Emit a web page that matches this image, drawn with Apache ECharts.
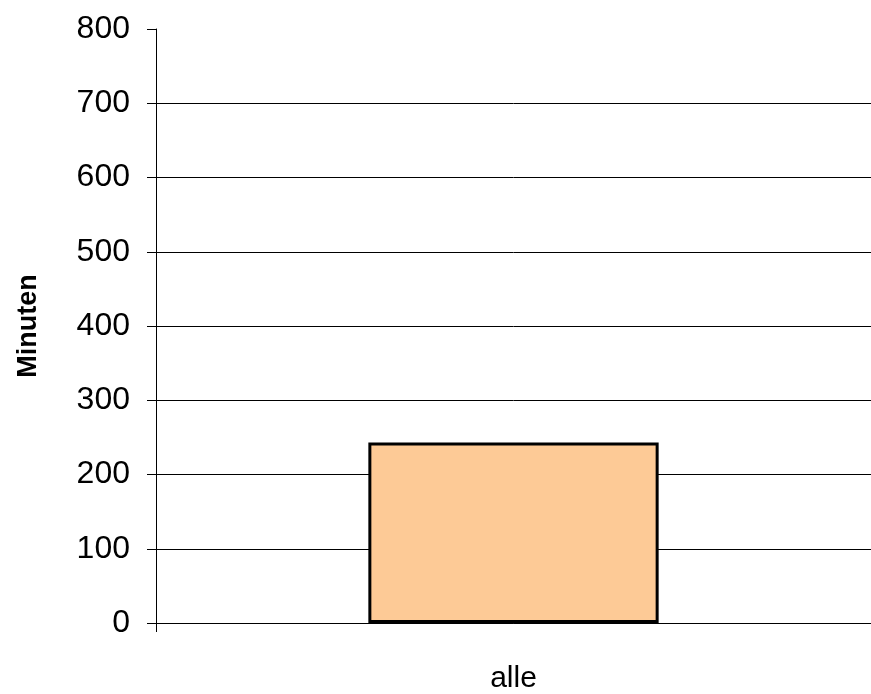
<!DOCTYPE html>
<html>
<head>
<meta charset="utf-8">
<script src="https://cdn.jsdelivr.net/npm/echarts@6/dist/echarts.min.js"></script>
<style>
html, body { margin: 0; padding: 0; background: #fff; }
#chart1 { width: 871px; height: 694px; }
</style>
</head>
<body>
<div id="chart1"></div>
<script>
var categories = ['alle'];
var minuten = [243];
var yTicks = [0, 100, 200, 300, 400, 500, 600, 700, 800];

var chart1 = echarts.init(document.getElementById('chart1'));

// no grid line at the top value, like the original
var gridColors = yTicks.map(function (v, i) {
	return i === yTicks.length - 1 ? 'rgba(0,0,0,0)' : '#000';
});

var option = {
	backgroundColor: '#ffffff',
	animation: false,
	grid: {
		left: 156,
		right: 0,
		top: 29,
		bottom: 69
	},
	xAxis: {
		type: 'category',
		data: categories,
		axisLine: {
			lineStyle: { color: '#000', width: 1 }
		},
		axisTick: {
			show: true,
			length: 9,
			lineStyle: { color: '#000' }
		},
		axisLabel: {
			color: '#000',
			fontFamily: 'Liberation Sans, Arial, sans-serif',
			fontSize: 30,
			margin: 41
		},
		splitLine: { show: false }
	},
	yAxis: {
		type: 'value',
		name: 'Minuten',
		nameLocation: 'middle',
		nameGap: 114,
		nameRotate: 90,
		nameTextStyle: {
			color: '#000',
			fontFamily: 'Liberation Sans, Arial, sans-serif',
			fontSize: 27,
			fontWeight: 'bold'
		},
		min: yTicks[0],
		max: yTicks[yTicks.length - 1],
		interval: 100,
		axisLine: {
			show: true,
			lineStyle: { color: '#000', width: 1 }
		},
		axisTick: {
			show: true,
			length: 9,
			lineStyle: { color: '#000' }
		},
		axisLabel: {
			color: '#000',
			fontFamily: 'Liberation Sans, Arial, sans-serif',
			fontSize: 32,
			margin: 26
		},
		splitLine: {
			show: true,
			lineStyle: { color: gridColors, width: 1 }
		}
	},
	series: [{
		type: 'bar',
		data: minuten,
		barWidth: '40.6%',
		itemStyle: {
			color: '#fdca96',
			borderColor: '#000',
			borderWidth: 3
		}
	}]
};

chart1.setOption(option);
</script>
</body>
</html>
